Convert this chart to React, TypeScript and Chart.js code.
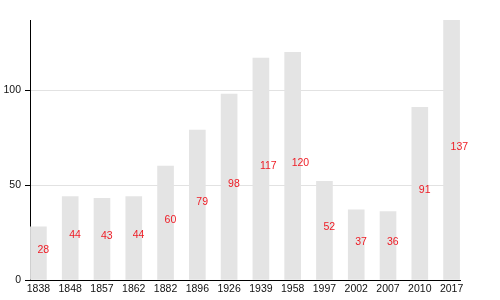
import React, { useEffect, useRef } from "react";
import { Chart, registerables } from "chart.js";

Chart.register(...registerables);

const years = ["1838", "1848", "1857", "1862", "1882", "1896", "1926", "1939", "1958", "1997", "2002", "2007", "2010", "2017"];
const population = [28, 44, 43, 44, 60, 79, 98, 117, 120, 52, 37, 36, 91, 137];
const yTicks = [0, 50, 100];

const FONT = "'Liberation Sans', Arial, sans-serif";

const labelPlugin = {
  id: "valueLabels",
  afterDatasetsDraw(chart: any) {
    const ctx = chart.ctx;
    const meta = chart.getDatasetMeta(0);
    ctx.save();
    ctx.font = `10.5px ${FONT}`;
    ctx.fillStyle = "#ee1c25";
    ctx.textAlign = "left";
    ctx.textBaseline = "middle";
    meta.data.forEach((el: any, i: number) => {
      const mid = (el.y + el.base) / 2 - 3;
      ctx.fillText(String(population[i]), el.x - 1, mid);
    });
    ctx.restore();
  },
};

export default function App() {
  const ref = useRef<HTMLCanvasElement>(null);
  useEffect(() => {
    if (!ref.current) return;
    const chart = new Chart(ref.current, {
      type: "bar",
      data: {
        datasets: [
          {
            data: population.map((v, i) => ({ x: i, y: v })),
            backgroundColor: "#e4e4e4",
            borderWidth: 0,
            barThickness: 16,
          },
        ],
      },
      options: {
        animation: false,
        responsive: false,
        layout: { padding: { top: 20, right: 40, bottom: 0, left: 0 } },
        plugins: { legend: { display: false }, tooltip: { enabled: false } },
        scales: {
          x: {
            type: "linear",
            offset: false,
            min: -0.265,
            max: 13.265,
            grid: { display: false, drawTicks: false, offset: false },
            border: { display: true, color: "#000", width: 1 },
            ticks: {
              stepSize: 1,
              includeBounds: false,
              autoSkip: false,
              maxRotation: 0,
              padding: 3,
              color: "#111",
              font: { family: FONT, size: 10.5 },
              callback: (v: any) => (Number.isInteger(v) ? years[v] : ""),
            },
            afterFit: (s: any) => {
              s.height = 20;
            },
          },
          y: {
            min: 0,
            max: 137,
            grid: {
              color: (c: any) => (c.tick && c.tick.value === 0 ? "rgba(0,0,0,0)" : "#e2e2e2"),
              tickColor: "#000",
              tickLength: 5,
            },
            border: { display: true, color: "#000", width: 1 },
            ticks: {
              stepSize: 50,
              includeBounds: false,
              padding: 4,
              color: "#111",
              font: { family: FONT, size: 10.5 },
            },
            afterBuildTicks: (s: any) => {
              s.ticks = yTicks.map((v) => ({ value: v }));
            },
            afterFit: (s: any) => {
              s.width = 30;
            },
          },
        },
      },
      plugins: [labelPlugin],
    });
    return () => chart.destroy();
  }, []);
  return (
    <div style={{ position: "fixed", left: 0, top: 0, width: 500, height: 300, background: "#fff" }}>
      <canvas ref={ref} width={500} height={300} style={{ width: 500, height: 300 }} />
    </div>
  );
}
